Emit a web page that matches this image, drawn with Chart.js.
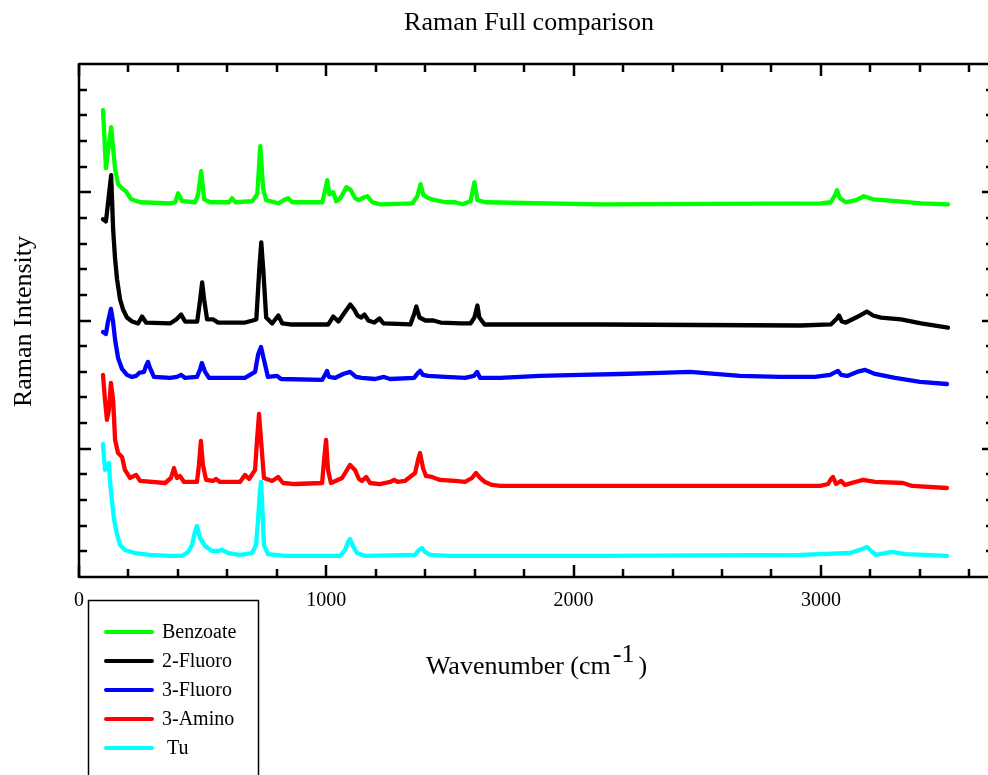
<!DOCTYPE html>
<html><head><meta charset="utf-8">
<script src="https://cdn.jsdelivr.net/npm/chart.js@4.4.1/dist/chart.umd.min.js"></script>
<style>
html,body{margin:0;padding:0;background:#fff;overflow:hidden;}
#wrap{position:relative;width:1000px;height:775px;}
</style></head><body>
<div id="wrap"><canvas id="c" width="1000" height="775"></canvas></div>
<script>
const seriesNames = ['Benzoate', '2-Fluoro', '3-Fluoro', '3-Amino', ' Tu'];
const seriesColors = ['#00ff00', '#000000', '#0000ff', '#ff0000', '#00ffff'];

const benzoateX = [97,109,130,146,158,178,190,211,247,368,389,401,417,470,482,494,506,530,607,619,632,700,721,733,745,757,806,834,846,862,984,996,1004,1012,1020,1028,1040,1057,1081,1097,1117,1130,1154,1166,1186,1219,1348,1368,1381,1393,1413,1441,1482,1522,1551,1583,1599,1611,1644,2109,3000,3040,3057,3065,3077,3101,3142,3174,3211,3304,3405,3514];
const benzoateY = [3641,3188,3508,3180,3063,3023,3008,2945,2922,2914,2922,2992,2930,2922,2984,3164,2945,2922,2922,2953,2922,2930,2984,3359,3023,2938,2914,2945,2953,2922,2922,3023,3094,2984,2992,3000,2930,2953,3039,3023,2953,2938,2961,2969,2922,2906,2914,2969,3063,2977,2953,2938,2922,2922,2906,2930,3078,2938,2922,2906,2914,2922,2977,3016,2953,2922,2938,2969,2945,2930,2914,2906];

const fluoro2X = [97,109,130,138,146,154,166,178,194,215,239,255,271,368,393,413,429,478,490,498,506,518,543,563,672,717,729,737,745,757,781,806,822,854,1008,1028,1049,1077,1097,1113,1126,1142,1154,1170,1194,1215,1231,1340,1356,1364,1377,1401,1433,1462,1543,1583,1599,1611,1619,1640,2109,2919,3040,3065,3073,3085,3101,3142,3186,3211,3243,3324,3405,3514];
const fluoro2Y = [2789,2773,3133,2711,2477,2320,2164,2086,2023,1992,1977,2031,1984,1977,2008,2047,1992,1992,2164,2297,2164,2008,2008,1984,1984,2008,2398,2609,2398,2023,1977,2039,1977,1969,1969,2031,1992,2070,2125,2086,2039,2023,2047,2000,1984,2016,1977,1969,2055,2109,2023,2000,2000,1984,1977,1977,2023,2117,2023,1969,1969,1961,1969,2016,2039,1992,1984,2023,2070,2039,2023,2008,1977,1945];

const fluoro3X = [97,109,117,129,138,146,158,174,194,214,231,243,263,271,279,287,303,368,396,413,429,477,489,497,510,526,671,712,724,736,748,764,801,817,983,995,1003,1011,1035,1068,1096,1120,1144,1197,1233,1258,1355,1371,1379,1391,1411,1480,1561,1597,1610,1622,1703,1864,2026,2188,2350,2471,2572,2673,2835,2976,3037,3061,3069,3082,3106,3146,3179,3219,3300,3401,3510];
const fluoro3Y = [1911,1895,1989,2090,1989,1849,1708,1622,1576,1560,1568,1591,1599,1646,1677,1630,1560,1552,1560,1576,1552,1560,1615,1669,1599,1552,1552,1599,1732,1794,1693,1560,1568,1544,1537,1576,1607,1560,1552,1583,1599,1560,1552,1544,1560,1544,1552,1591,1607,1576,1568,1560,1552,1568,1599,1552,1552,1568,1576,1583,1591,1599,1583,1568,1560,1560,1576,1599,1607,1576,1568,1599,1615,1583,1552,1521,1505];

const amino3X = [97,105,113,121,129,138,146,158,174,186,206,231,247,348,372,384,396,408,425,477,485,493,501,514,542,554,570,651,671,688,712,720,728,736,748,781,805,825,874,983,991,999,1007,1019,1064,1096,1116,1132,1144,1161,1177,1217,1258,1274,1290,1318,1359,1371,1379,1391,1403,1427,1460,1521,1561,1589,1605,1622,1642,1670,1703,2511,2997,3029,3041,3049,3061,3082,3098,3138,3171,3219,3332,3369,3510];
const amino3Y = [1576,1381,1225,1303,1513,1381,1069,967,936,835,772,796,749,733,772,850,772,788,741,741,874,1061,874,757,749,764,741,741,796,764,835,1069,1271,1069,772,749,780,733,725,733,913,1069,835,733,772,874,835,764,749,780,733,725,741,757,741,749,811,913,967,850,788,780,757,749,741,772,811,772,741,718,710,710,710,725,764,780,725,749,718,741,757,741,733,710,694];

const tuX = [97,105,113,121,125,133,142,154,166,186,226,287,368,416,441,457,469,477,489,510,538,562,578,603,651,700,716,724,732,736,740,748,764,833,1056,1076,1088,1096,1108,1124,1157,1359,1375,1387,1399,1420,1500,2107,2916,3118,3167,3187,3203,3224,3260,3288,3340,3421,3510];
const tuY = [1037,835,858,889,757,601,445,328,250,211,187,172,164,164,195,250,351,398,304,242,203,203,211,187,172,187,250,445,679,741,601,250,179,164,164,211,273,296,242,187,164,172,211,226,195,172,164,164,172,187,218,234,203,172,187,195,179,172,164];

const xTickValues = [0, 1000, 2000, 3000];
const xTickLabels = ['0', '1000', '2000', '3000'];
const chartTitle = 'Raman Full comparison';
const xAxisTitle = 'Wavenumber (cm';
const xAxisSup = '-1';
const xAxisClose = ')';
const yAxisTitle = 'Raman Intensity';

const xs = [benzoateX, fluoro2X, fluoro3X, amino3X, tuX];
const ys = [benzoateY, fluoro2Y, fluoro3Y, amino3Y, tuY];

const datasets = seriesNames.map((name, i) => ({
  label: name,
  data: xs[i].map((x, j) => ({x: x, y: ys[i][j]})),
  borderColor: seriesColors[i],
  backgroundColor: seriesColors[i],
  borderWidth: 4.3,
  pointRadius: 0,
  tension: 0,
  fill: false,
  borderJoinStyle: 'round',
  borderCapStyle: 'round'
}));

const SERIF = '"Liberation Serif", "Times New Roman", serif';

const decor = {
  id: 'decor',
  afterDatasetsDraw(chart) {
    const ctx = chart.ctx;
    const a = chart.chartArea;
    const xs = chart.scales.x, ys = chart.scales.y;
    ctx.save();
    ctx.strokeStyle = '#000';
    ctx.fillStyle = '#000';
    ctx.lineCap = 'butt';
    ctx.lineWidth = 2.5;
    ctx.beginPath();
    ctx.moveTo(a.left, a.top); ctx.lineTo(a.right, a.top);
    ctx.moveTo(a.left, a.bottom); ctx.lineTo(a.right, a.bottom);
    ctx.moveTo(a.left, a.top - 1); ctx.lineTo(a.left, a.bottom + 1);
    ctx.moveTo(a.right, a.top - 1); ctx.lineTo(a.right, a.bottom + 1);
    ctx.stroke();
    ctx.beginPath();
    for (let v = 0; v <= xs.max; v += 200) {
      const px = Math.round(xs.getPixelForValue(v));
      const len = (v % 1000 === 0) ? 12 : 8;
      ctx.moveTo(px, a.bottom); ctx.lineTo(px, a.bottom - len);
      ctx.moveTo(px, a.top); ctx.lineTo(px, a.top + len);
    }
    for (let v = 200; v < ys.max; v += 200) {
      const py = Math.round(ys.getPixelForValue(v));
      const len = (v % 1000 === 0) ? 12 : 8;
      ctx.moveTo(a.left, py); ctx.lineTo(a.left + len, py);
      ctx.moveTo(a.right, py); ctx.lineTo(a.right - len, py);
    }
    ctx.stroke();
    ctx.font = '20px ' + SERIF;
    ctx.textAlign = 'center';
    ctx.textBaseline = 'alphabetic';
    xTickValues.forEach((v, i) => {
      ctx.fillText(xTickLabels[i], xs.getPixelForValue(v), 606);
    });
    ctx.font = '26px ' + SERIF;
    ctx.fillText(chartTitle, 529, 30);
    ctx.textAlign = 'left';
    const w1 = ctx.measureText(xAxisTitle).width;
    const w2 = ctx.measureText(xAxisSup).width;
    const w3 = ctx.measureText(xAxisClose).width;
    const total = w1 + 2 + w2 + 4 + w3;
    const cx = (a.left + a.right) / 2;
    let sx = cx - total / 2;
    ctx.fillText(xAxisTitle, sx, 674);
    ctx.fillText(xAxisSup, sx + w1 + 2, 662);
    ctx.fillText(xAxisClose, sx + w1 + 2 + w2 + 4, 674);
    ctx.save();
    ctx.translate(31, (a.top + a.bottom) / 2 + 1);
    ctx.rotate(-Math.PI / 2);
    ctx.textAlign = 'center';
    ctx.fillText(yAxisTitle, 0, 0);
    ctx.restore();
    ctx.lineWidth = 1.5;
    ctx.strokeRect(88.5, 600.5, 170, 200);
    ctx.font = '20px ' + SERIF;
    ctx.textBaseline = 'middle';
    ctx.textAlign = 'left';
    chart.data.datasets.forEach((ds, i) => {
      const y = 632 + i * 29;
      ctx.strokeStyle = ds.borderColor;
      ctx.lineWidth = 4;
      ctx.lineCap = 'round';
      ctx.beginPath();
      ctx.moveTo(106, y); ctx.lineTo(152, y);
      ctx.stroke();
      ctx.fillStyle = '#000';
      ctx.fillText(ds.label, 162, y + 1);
    });
    ctx.restore();
  }
};

new Chart(document.getElementById('c'), {
  type: 'line',
  data: { datasets: datasets },
  options: {
    responsive: false,
    animation: false,
    devicePixelRatio: 1,
    layout: { padding: { left: 79, top: 64, right: 6, bottom: 198 } },
    plugins: { legend: { display: false }, title: { display: false }, tooltip: { enabled: false } },
    scales: {
      x: { type: 'linear', min: 0, max: 3700, display: false },
      y: { type: 'linear', min: 0, max: 4000, display: false }
    }
  },
  plugins: [decor]
});
</script>
</body></html>
